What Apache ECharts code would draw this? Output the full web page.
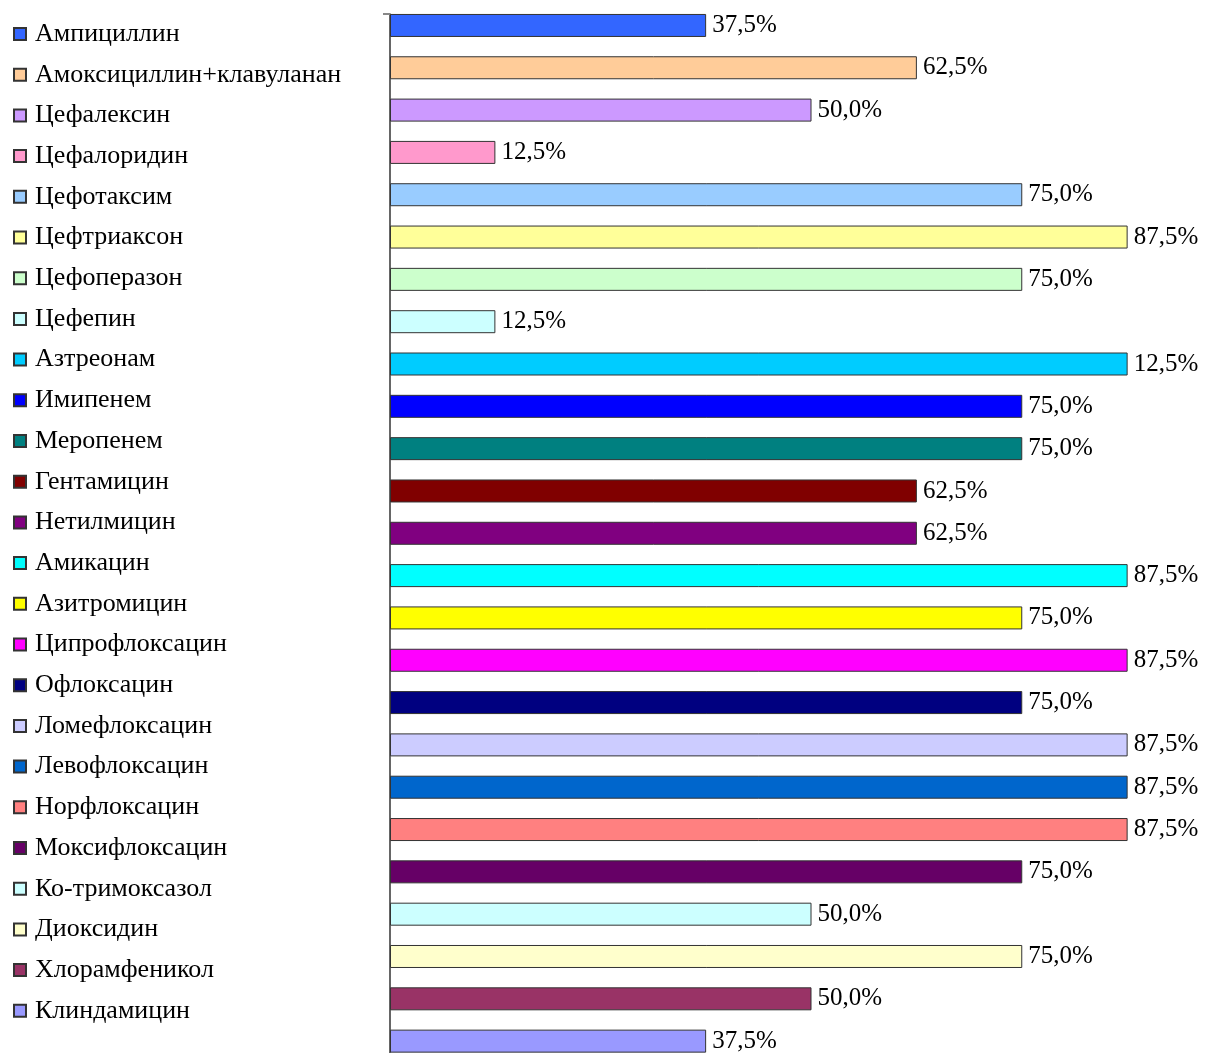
<!DOCTYPE html>
<html>
<head>
<meta charset="utf-8">
<script src="https://cdn.jsdelivr.net/npm/echarts@6/dist/echarts.min.js"></script>
<style>html,body{margin:0;padding:0;background:#fff}#c{width:1205px;height:1053px}</style>
</head>
<body>
<div id="c"></div>
<script>
const categories = ["Ампициллин","Амоксициллин+клавуланан","Цефалексин","Цефалоридин","Цефотаксим","Цефтриаксон","Цефоперазон","Цефепин","Азтреонам","Имипенем","Меропенем","Гентамицин","Нетилмицин","Амикацин","Азитромицин","Ципрофлоксацин","Офлоксацин","Ломефлоксацин","Левофлоксацин","Норфлоксацин","Моксифлоксацин","Ко-тримоксазол","Диоксидин","Хлорамфеникол","Клиндамицин"];
const values = [37.5,62.5,50.0,12.5,75.0,87.5,75.0,12.5,87.5,75.0,75.0,62.5,62.5,87.5,75.0,87.5,75.0,87.5,87.5,87.5,75.0,50.0,75.0,50.0,37.5];
const labels = ["37,5%","62,5%","50,0%","12,5%","75,0%","87,5%","75,0%","12,5%","12,5%","75,0%","75,0%","62,5%","62,5%","87,5%","75,0%","87,5%","75,0%","87,5%","87,5%","87,5%","75,0%","50,0%","75,0%","50,0%","37,5%"];
const colors = ["#3366FF","#FFCC99","#CC99FF","#FF99CC","#99CCFF","#FFFF99","#CCFFCC","#CCFFFF","#00CCFF","#0000FF","#008080","#800000","#800080","#00FFFF","#FFFF00","#FF00FF","#000080","#CCCCFF","#0066CC","#FF8080","#660066","#CCFFFF","#FFFFCC","#993366","#9999FF"];

const FONT = "'Liberation Serif', 'DejaVu Serif', serif";
const series = categories.map((name, i) => ({
  name: name,
  type: 'bar',
  stack: 'all',
  barWidth: 23,
  barGap: '-15.6%',
  data: categories.map((c, j) => j === i ? values[i] : '-'),
  itemStyle: { color: colors[i], borderColor: '#333333', borderWidth: 1 },
  label: {
    show: true, position: 'right', distance: 6,
    formatter: () => labels[i],
    fontFamily: FONT, fontSize: 25, color: '#000'
  }
}));
series.push({ name: '_pad', type: 'bar', barWidth: 23, barGap: '-15.6%', data: categories.map(() => '-'), silent: true });

const chart = echarts.init(document.getElementById('c'));
chart.setOption({
  animation: false,
  backgroundColor: '#fff',
  legend: {
    orient: 'vertical', left: 8, top: 16,
    itemWidth: 12, itemHeight: 12, itemGap: 14.7,
    icon: 'rect',
    data: categories,
    textStyle: { fontFamily: FONT, fontSize: 26, color: '#000', padding: [0, 0, 0, 4] },
    selectedMode: false
  },
  grid: { left: 390, top: 14, height: 1058, width: 843, outerBoundsMode: 'none', containLabel: false },
  xAxis: { type: 'value', min: 0, max: 100, show: false },
  yAxis: {
    type: 'category', data: categories, inverse: true,
    axisLine: { show: true, lineStyle: { color: '#333', width: 1.5 } },
    axisTick: { show: true, length: 7, interval: (idx) => idx === 0, lineStyle: { color: '#888', width: 2 } },
    axisLabel: { show: false }
  },
  series: series
});
</script>
</body>
</html>
